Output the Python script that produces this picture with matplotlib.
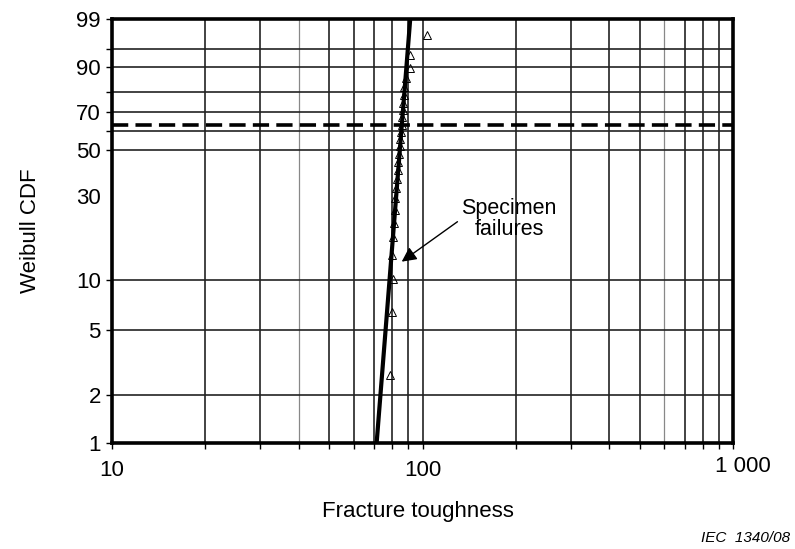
import numpy as np
import matplotlib
matplotlib.use("Agg")
import matplotlib.pyplot as plt
import matplotlib.transforms as mtransforms

plt.rcParams['font.family'] = ['Liberation Sans', 'DejaVu Sans']

# specimen failures: fracture toughness and median-rank probability (%)
toughness = [78.6, 79.8, 80.2, 79.8, 80.5, 81.0, 81.3, 81.8, 82.3, 82.8,
             83.2, 83.6, 84.0, 84.4, 84.8, 85.2, 85.6, 86.0, 86.4, 86.8,
             87.0, 87.5, 88.2, 91.0, 91.3, 103.4]
cdf_pct = [2.65, 6.44, 10.23, 14.02, 17.80, 21.59, 25.38, 29.17, 32.95, 36.74,
           40.53, 44.32, 48.11, 51.89, 55.68, 59.47, 63.26, 67.05, 70.83, 74.62,
           78.41, 82.20, 85.98, 89.77, 93.56, 97.35]

# fitted Weibull line
weibull_shape = 24.6
weibull_scale = 85.8
char_level = 63.2

x_ticks = [10, 100, 1000]
x_ticklabels = ['10', '100', '1 000']
x_grid = [20, 30, 40, 50, 60, 70, 80, 90, 200, 300, 400, 500, 600, 700, 800, 900]
x_faint = [40, 600]
y_ticks = [1, 2, 5, 10, 30, 50, 70, 90, 99]
y_grid = [2, 5, 10, 50, 60, 70, 80, 90, 95]
y_minor = [60, 80, 95]


def fwd(p):
    with np.errstate(divide='ignore', invalid='ignore'):
        return np.log(-np.log(1 - np.asarray(p, float) / 100.0))


def inv(w):
    return 100.0 * (1 - np.exp(-np.exp(np.asarray(w, float))))


fig = plt.figure(figsize=(7.95, 5.49), dpi=100)
ax = fig.add_axes([112 / 795, 1 - 443 / 549, (733 - 112) / 795, (443 - 19) / 549])
ax.set_xscale('log')
ax.set_yscale('function', functions=(fwd, inv))
ax.set_xlim(10, 1000)
ax.set_ylim(1, 99)

grid_c = '#222222'
for xv in x_grid:
    if xv in x_faint:
        ax.axvline(xv, color='#888888', lw=0.9, zorder=1)
    else:
        ax.axvline(xv, color=grid_c, lw=1.2, zorder=1)
ax.axvline(100, color=grid_c, lw=1.2, zorder=1)
for yv in y_grid:
    ax.axhline(yv, color=grid_c, lw=1.2, zorder=1)
ax.axhline(char_level, color='black', lw=2.6, dashes=(4.5, 2.0), zorder=2)

# fit line between 1 % and 99 %
p_ends = np.array([1.0, 99.0])
x_ends = weibull_scale * np.exp(fwd(p_ends) / weibull_shape)
ax.plot(x_ends, p_ends, color='black', lw=3.0, zorder=3)

ax.plot(toughness, cdf_pct, linestyle='none', marker='^', ms=5.5,
        mfc='none', mec='black', mew=0.7, zorder=4)

ax.annotate('Specimen\nfailures', xy=(85.7, 12.9), xytext=(190, 22.6),
            ha='center', va='center', fontsize=15.5, linespacing=1.0,
            arrowprops=dict(arrowstyle='-|>', color='black', lw=1.0,
                            mutation_scale=22, relpos=(0, 0.5),
                            shrinkA=1, shrinkB=0))

for s in ax.spines.values():
    s.set_linewidth(2.6)
    s.set_zorder(5)

ax.set_xticks(x_ticks)
ax.set_xticklabels(x_ticklabels)
ax.set_xticks(x_grid, minor=True)
ax.set_yticks(y_ticks)
ax.set_yticklabels([str(v) for v in y_ticks])
ax.set_yticks(y_minor, minor=True)
ax.yaxis.set_minor_formatter(plt.NullFormatter())
ax.xaxis.set_minor_formatter(plt.NullFormatter())
ax.tick_params(axis='both', which='both', direction='out', length=4,
               width=1.0, color='black')
ax.tick_params(axis='y', which='major', labelsize=16, pad=4)
ax.tick_params(axis='x', which='major', labelsize=16, pad=8)
for t in ax.yaxis.get_major_ticks():
    if t.get_loc() == 30:
        t.tick1line.set_visible(False)

# nudge the "1 000" label right and up
lbl = ax.get_xticklabels()[-1]
lbl.set_transform(lbl.get_transform() +
                  mtransforms.ScaledTranslation(10 / 100, 4 / 100, fig.dpi_scale_trans))

ax.set_xlabel('Fracture toughness', fontsize=16, va='center')
ax.set_ylabel('Weibull CDF', fontsize=16, va='center', ha='center')
ax.xaxis.set_label_coords((418 - 112) / 621, (443 - 512) / 424)
ax.yaxis.set_label_coords((30 - 112) / 621, (443 - 231) / 424)

fig.text(790 / 795, 1 - 538 / 549, 'IEC  1340/08', ha='right', va='center',
         fontsize=11, style='italic')

fig.savefig('out.png', dpi=100)
